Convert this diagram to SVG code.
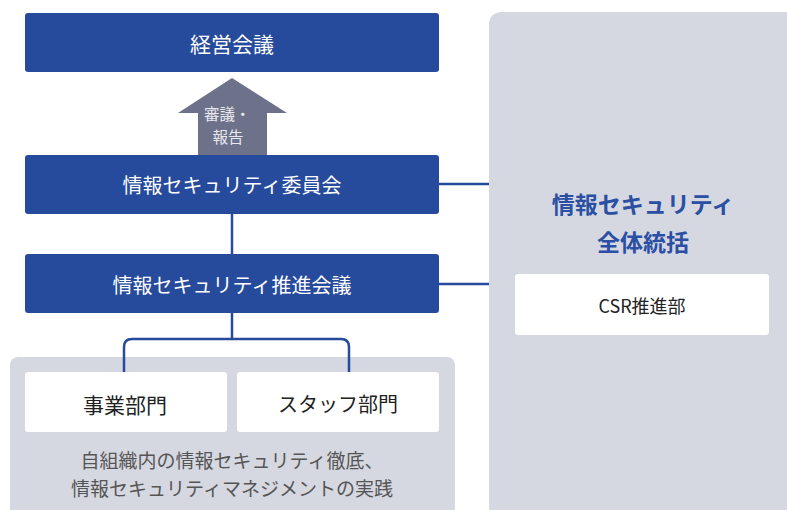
<svg xmlns="http://www.w3.org/2000/svg" width="787" height="510" viewBox="0 0 787 510">
<style>
text{font-family:"Noto Sans CJK JP","Noto Sans",sans-serif;text-anchor:middle}
.blue{fill:#264a9c}
.wl{fill:#ffffff;font-size:20px}
.panel{fill:#d5d8e1}
.white{fill:#ffffff}
.dl{fill:#222222;font-size:20px}
.conn{fill:none;stroke:#264a9c;stroke-width:2.5}
.al{fill:#e8e9ef;font-size:15.5px}
</style>
<g id="panel-right">
<rect class="panel" x="489" y="12" width="320" height="520" rx="12"/>
<text style="fill:#2a4fa3;font-size:23px;font-weight:bold"><tspan x="643" y="213">情報セキュリティ</tspan><tspan x="643" y="251">全体統括</tspan></text>
</g>
<g id="csr">
<rect class="white" x="515" y="274" width="254" height="61" rx="3"/>
<text class="dl" x="642" y="313" style="font-size:18px">CSR推進部</text>
</g>
<g id="panel-bottom">
<rect class="panel" x="10" y="357" width="445" height="170" rx="8"/>
<text style="fill:#555555;font-size:19px"><tspan x="232" y="468">自組織内の情報セキュリティ徹底、</tspan><tspan x="232" y="496">情報セキュリティマネジメントの実践</tspan></text>
</g>
<g id="connectors">
<line class="conn" x1="439" y1="184" x2="489" y2="184"/>
<line class="conn" x1="439" y1="284" x2="489" y2="284"/>
<line class="conn" x1="232" y1="214" x2="232" y2="254"/>
<path class="conn" d="M232 313 V339 M124 372 V347 Q124 339 132 339 H341 Q349 339 349 347 V372"/>
</g>
<g id="arrow">
<polygon points="232,78 287,113 267,113 267,155 198,155 198,113 178,113" fill="#6d7189"/>
<text class="al"><tspan x="204" y="120" style="text-anchor:start">審議・</tspan><tspan x="228" y="143">報告</tspan></text>
</g>
<g id="keiei">
<rect class="blue" x="25" y="13" width="414" height="59" rx="3"/>
<text class="wl" x="232" y="52" style="font-size:21px">経営会議</text>
</g>
<g id="iinkai">
<rect class="blue" x="25" y="155" width="414" height="59" rx="3"/>
<text class="wl" x="232" y="193">情報セキュリティ委員会</text>
</g>
<g id="suishin">
<rect class="blue" x="25" y="254" width="414" height="59" rx="3"/>
<text class="wl" x="232" y="293">情報セキュリティ推進会議</text>
</g>
<g id="jigyo">
<rect class="white" x="25" y="372" width="202" height="60" rx="3"/>
<text class="dl" x="125" y="412.5" style="font-size:21px">事業部門</text>
</g>
<g id="staff">
<rect class="white" x="237" y="372" width="202" height="60" rx="3"/>
<text class="dl" x="338" y="412">スタッフ部門</text>
</g>
</svg>
